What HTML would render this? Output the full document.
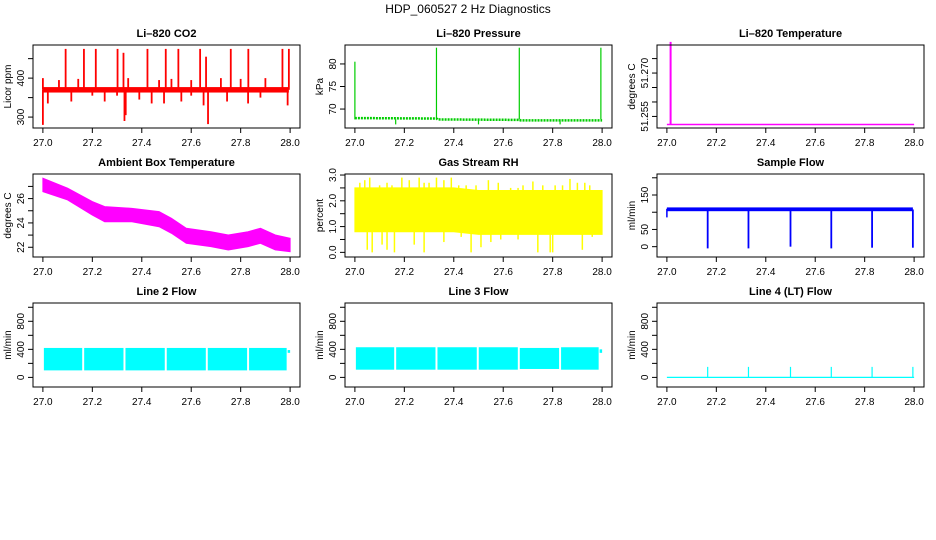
<!DOCTYPE html>
<html><head><meta charset="utf-8"><style>
html,body{margin:0;padding:0;background:#fff;}
svg{display:block;font-family:"Liberation Sans",Arial,sans-serif;}
</style></head><body>
<svg id="chart" width="936" height="540" viewBox="0 0 936 540" xmlns="http://www.w3.org/2000/svg">
<text x="468" y="13" text-anchor="middle" font-size="12">HDP_060527  2 Hz Diagnostics</text>
</svg>
<script>
// ---- data ----
const xTicks = [27.0, 27.2, 27.4, 27.6, 27.8, 28.0];
const xTickLabels = ["27.0", "27.2", "27.4", "27.6", "27.8", "28.0"];
// CO2
const co2Base = [363, 377];
const co2SpikeX = [27.092,27.166,27.214,27.302,27.423,27.497,27.548,27.636,27.760,27.831,27.969,27.995,27.326,27.660,
  27.0,27.065,27.143,27.345,27.47,27.52,27.6,27.72,27.8,27.9,
  27.0,27.33,27.668,27.335,27.02,27.115,27.25,27.39,27.44,27.49,27.56,27.65,27.745,27.83,27.99,27.2,27.3,27.6,27.88];
const co2SpikeV = [475,475,475,475,475,475,475,475,475,475,475,475,465,455,
  400,395,398,400,395,398,395,400,398,400,
  280,290,282,305,335,340,340,345,335,335,340,330,340,335,330,355,355,355,350];
// Pressure
const presX = [27.0, 27.33, 27.335, 27.665, 27.67, 28.0];
const presV = [68.0, 67.9, 67.7, 67.6, 67.5, 67.5];
const presSpikeX = [27.0, 27.33, 27.665, 27.995, 27.165, 27.5, 27.83];
const presSpikeV = [80.5, 83.6, 83.6, 83.6, 66.6, 66.6, 66.6];
// Li-820 temperature
const ltBase = 51.2522;
const ltSpikeX = [27.015];
const ltSpikeV = [51.2808];
// Ambient box temperature envelope
const ambX  = [27.00,27.10,27.20,27.25,27.36,27.47,27.52,27.58,27.68,27.75,27.83,27.88,27.94,28.00];
const ambLo = [26.57,25.89,24.65,24.10,24.10,23.69,23.15,22.33,22.05,21.78,22.05,22.33,21.78,21.64];
const ambHi = [27.67,26.85,25.75,25.34,25.20,24.93,24.38,23.56,23.28,23.01,23.28,23.56,23.01,22.74];
// RH
const rhX  = [27.0, 27.4, 27.5, 28.0];
const rhLo = [0.8, 0.8, 0.7, 0.7];
const rhHi = [2.5, 2.5, 2.4, 2.4];
const rhUpX = [27.06,27.19,27.26,27.33,27.39,27.54,27.72,27.87,27.02,27.1,27.15,27.22,27.3,27.36,27.45,27.58,27.63,27.68,27.76,27.81,27.9,27.95,27.04,27.13,27.28,27.42,27.49,27.66,27.84,27.93];
const rhUpV = [2.9,2.9,2.9,2.9,2.9,2.8,2.75,2.85,2.7,2.6,2.6,2.8,2.7,2.8,2.6,2.7,2.5,2.6,2.6,2.6,2.7,2.6,2.8,2.7,2.7,2.6,2.6,2.5,2.6,2.7];
const rhDnX = [27.05,27.07,27.13,27.16,27.24,27.28,27.43,27.47,27.51,27.59,27.74,27.79,27.8,27.92,27.96,27.11,27.36,27.55,27.66];
const rhDnV = [0.1,0.0,0.1,0.0,0.3,0.0,0.6,0.0,0.2,0.5,0.0,0.0,0.0,0.1,0.6,0.3,0.4,0.4,0.5];
// Sample flow
const sfBase = [103, 114];
const sfDropX = [27.165, 27.33, 27.5, 27.665, 27.83, 27.995];
const sfDropV = [-5, -5, 0, -5, -3, -3];
// Line flows
const gapX = [27.0, 27.163, 27.33, 27.497, 27.663, 27.83, 27.99];
const l2Lo = [100, 100, 100, 100, 100, 100];
const l2Hi = [420, 420, 420, 420, 420, 420];
const l3Lo = [110, 110, 110, 110, 120, 110];
const l3Hi = [430, 430, 430, 430, 420, 430];
const l4SpikeX = [27.165, 27.33, 27.5, 27.665, 27.83, 27.995];
const l4SpikeV = [150, 150, 150, 150, 150, 150];

// ---- layout ----
const NS = "http://www.w3.org/2000/svg";
const svg = document.getElementById("chart");
const colX = [33, 345, 657];
const rowY = [[45,128],[174,257],[303,387]];
const BW = 267;
const XD = [26.96, 28.04];

function mk(tag, attrs, parent) {
  const e = document.createElementNS(NS, tag);
  for (const k in attrs) e.setAttribute(k, attrs[k]);
  (parent || svg).appendChild(e);
  return e;
}

function panel(col, row, name, title, ylab, yd, yTicks, yLabels) {
  const x0 = colX[col], x1 = x0 + BW, y0 = rowY[row][0], y1 = rowY[row][1];
  const g = mk("g", {});
  
  
  const sx = v => x0 + (v - XD[0]) / (XD[1] - XD[0]) * BW;
  const sy = v => y1 - (v - yd[0]) / (yd[1] - yd[0]) * (y1 - y0);
  const t = mk("text", {x: (x0+x1)/2, y: y0 - 8, "text-anchor": "middle", "font-size": "11", "font-weight": "bold"}, g);
  t.textContent = title;
  
  
  const yl = mk("text", {x: 0, y: 0, "text-anchor": "middle", "font-size": "10", transform: `translate(${x0-22},${(y0+y1)/2}) rotate(-90)`}, g);
  yl.textContent = ylab;
  
  
  const marks = mk("g", {}, g);
  
  
  const box = mk("rect", {x: x0, y: y0, width: BW, height: y1 - y0, fill: "none", stroke: "#000", "stroke-width": "1"}, g);
  
  
  xTicks.forEach((v, i) => {
    const px = sx(v);
    mk("line", {x1: px, x2: px, y1: y1, y2: y1 + 5, stroke: "#000"}, g);
    const tl = mk("text", {x: px, y: y1 + 18, "text-anchor": "middle", "font-size": "10"}, g);
    tl.textContent = xTickLabels[i];
    
    
  });
  yTicks.forEach((v, i) => {
    const py = sy(v);
    mk("line", {x1: x0 - 5, x2: x0, y1: py, y2: py, stroke: "#000"}, g);
    if (yLabels[i]) {
      const tl = mk("text", {x: 0, y: 0, "text-anchor": "middle", "font-size": "10", transform: `translate(${x0-9},${py}) rotate(-90)`}, g);
      tl.textContent = yLabels[i];
      
      
    }
  });
  return {sx, sy, g: marks};
}
function vline(p, x, a, b, color, w) {
  const l = mk("line", {x1: p.sx(x), x2: p.sx(x), y1: p.sy(a), y2: p.sy(b), stroke: color, "stroke-width": w || 1.5}, p.g);
  
  
}
function band(p, xs, lo, hi, color, nm) {
  let pts = xs.map((x, i) => p.sx(x) + "," + p.sy(hi[i]));
  for (let i = xs.length - 1; i >= 0; i--) pts.push(p.sx(xs[i]) + "," + p.sy(lo[i]));
  const pg = mk("polygon", {points: pts.join(" "), fill: color, stroke: color, "stroke-width": 1}, p.g);
  
  
}
function rectBand(p, xa, xb, lo, hi, color, nm) {
  const r = mk("rect", {x: p.sx(xa), y: p.sy(hi), width: p.sx(xb) - p.sx(xa), height: p.sy(lo) - p.sy(hi), fill: color}, p.g);
  
  
}

// CO2
let p = panel(0, 0, "co2", "Li\u2013820 CO2", "Licor ppm", [272, 485], [300, 350, 400, 450], ["300", "", "400", ""]);
rectBand(p, 27.0, 27.995, co2Base[0], co2Base[1], "#ff0000", "co2-baseline");
co2SpikeX.forEach((x, i) => vline(p, x, 370, co2SpikeV[i], "#ff0000", 1.8));

// Pressure
p = panel(1, 0, "pressure", "Li\u2013820 Pressure", "kPa", [65.8, 84.2], [70, 75, 80], ["70", "75", "80"]);
{
  const pl = mk("polyline", {points: presX.map((x, i) => p.sx(x) + "," + p.sy(presV[i])).join(" "), fill: "none", stroke: "#00cd00", "stroke-width": 2.5, "stroke-dasharray": "2,1"}, p.g);
  
  
}
presSpikeX.forEach((x, i) => vline(p, x, presV[0] - 0.3, presSpikeV[i], "#00cd00", 1.2));

// Li-820 temperature
p = panel(2, 0, "li820-temp", "Li\u2013820 Temperature", "degrees C", [51.2510, 51.2797], [51.255, 51.26, 51.265, 51.27, 51.275], ["51.255", "", "", "51.270", ""]);
{
  const l = mk("line", {x1: p.sx(27.0), x2: p.sx(28.0), y1: p.sy(ltBase), y2: p.sy(ltBase), stroke: "#ff00ff", "stroke-width": 1.5}, p.g);
  
  
}
ltSpikeX.forEach((x, i) => vline(p, x, ltBase, ltSpikeV[i], "#ff00ff", 2));

// Ambient
p = panel(0, 1, "ambient-temp", "Ambient Box Temperature", "degrees C", [21.2, 28.02], [22, 23, 24, 25, 26, 27], ["22", "", "24", "", "26", ""]);
band(p, ambX, ambLo, ambHi, "#ff00ff", "ambient-temp-band");

// RH
p = panel(1, 1, "rh", "Gas Stream RH", "percent", [-0.18, 3.04], [0, 0.5, 1, 1.5, 2, 2.5, 3], ["0.0", "", "1.0", "", "2.0", "", "3.0"]);
band(p, rhX, rhLo, rhHi, "#ffff00", "rh-band");
rhUpX.forEach((x, i) => vline(p, x, 1.5, rhUpV[i], "#ffff00", 1.5));
rhDnX.forEach((x, i) => vline(p, x, 1.5, rhDnV[i], "#ffff00", 1.5));

// Sample flow
p = panel(2, 1, "sample-flow", "Sample Flow", "ml/min", [-30, 211], [0, 50, 100, 150, 200], ["0", "50", "", "150", ""]);
rectBand(p, 27.0, 27.995, sfBase[0], sfBase[1], "#0000ff", "sample-flow-baseline");
vline(p, 27.0, 85, 110, "#0000ff", 1.5);
sfDropX.forEach((x, i) => vline(p, x, 108, sfDropV[i], "#0000ff", 1.8));

// Line flows
const flowTicks = [0, 200, 400, 600, 800, 1000], flowLabels = ["0", "", "400", "", "800", ""];
p = panel(0, 2, "line2-flow", "Line 2 Flow", "ml/min", [-137, 1061], flowTicks, flowLabels);
for (let i = 0; i < gapX.length - 1; i++) rectBand(p, gapX[i] + 0.004, gapX[i+1] - 0.004, l2Lo[i], l2Hi[i], "#00ffff", "line2-flow-segment");
rectBand(p, 27.99, 28.0, 350, 390, "#00ffff", "line2-flow-tail");
p = panel(1, 2, "line3-flow", "Line 3 Flow", "ml/min", [-137, 1061], flowTicks, flowLabels);
for (let i = 0; i < gapX.length - 1; i++) rectBand(p, gapX[i] + 0.004, gapX[i+1] - 0.004, l3Lo[i], l3Hi[i], "#00ffff", "line3-flow-segment");
rectBand(p, 27.99, 28.0, 350, 400, "#00ffff", "line3-flow-tail");
p = panel(2, 2, "line4-flow", "Line 4 (LT) Flow", "ml/min", [-137, 1061], flowTicks, flowLabels);
{
  const l = mk("line", {x1: p.sx(27.0), x2: p.sx(28.0), y1: p.sy(0), y2: p.sy(0), stroke: "#00ffff", "stroke-width": 1.2}, p.g);
  
  
}
l4SpikeX.forEach((x, i) => vline(p, x, 0, l4SpikeV[i], "#00ffff", 1.2));
</script>
</body></html>
